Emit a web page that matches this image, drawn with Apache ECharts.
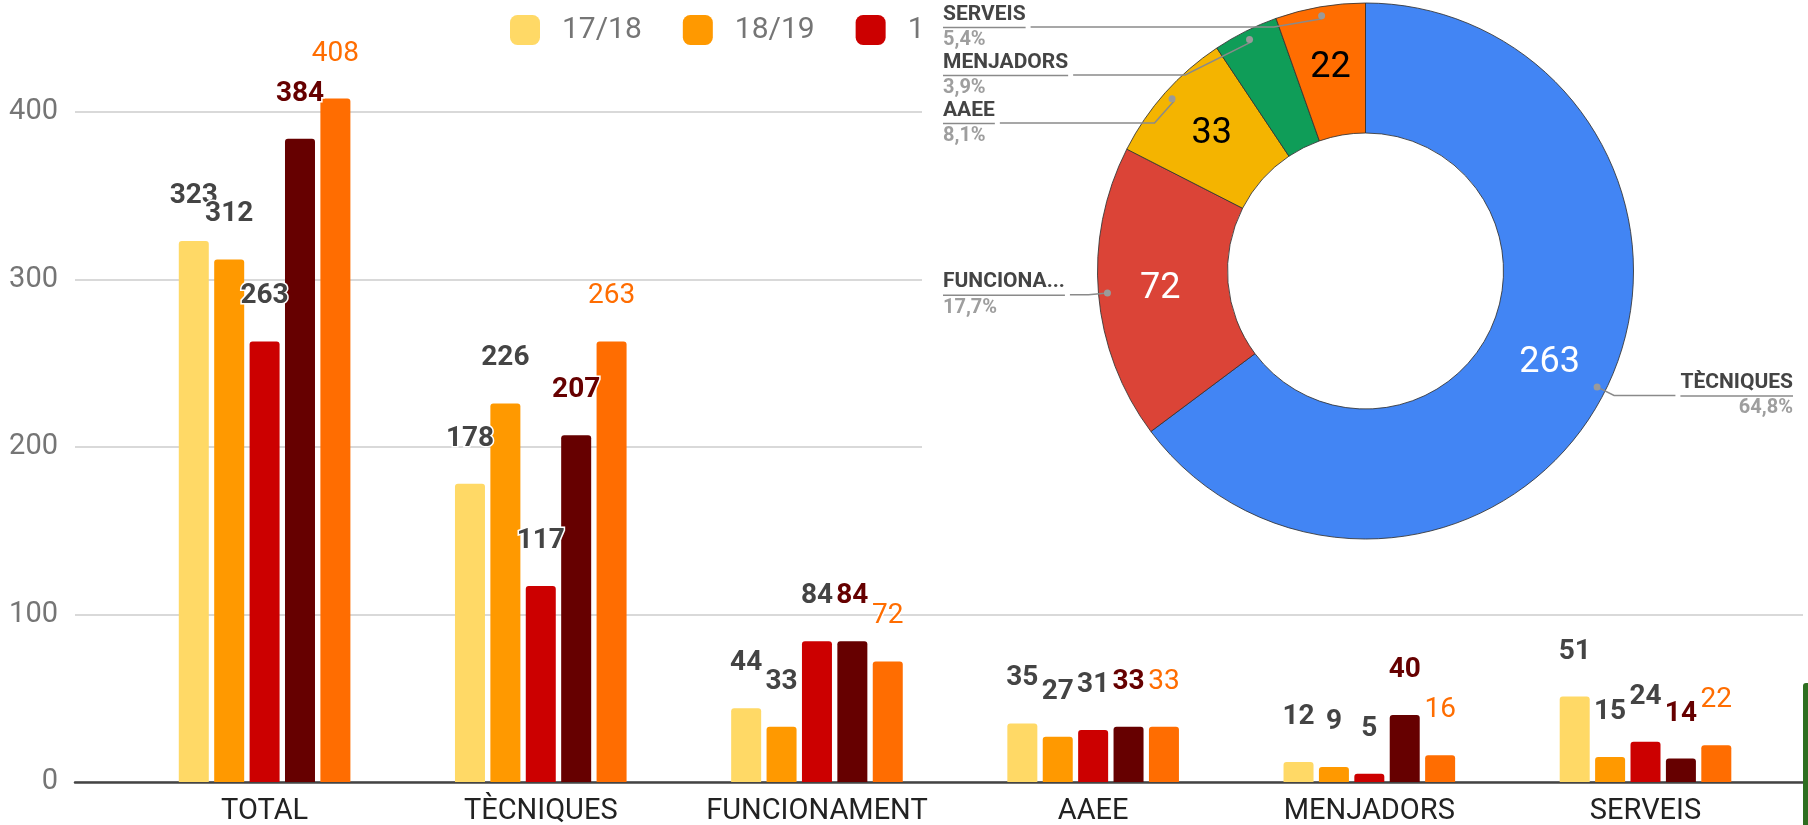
<!DOCTYPE html>
<html>
<head>
<meta charset="utf-8">
<script src="https://cdn.jsdelivr.net/npm/echarts@6/dist/echarts.min.js"></script>
<style>
html,body{margin:0;padding:0;background:#fff;}
#c{width:1808px;height:825px;}
</style>
</head>
<body>
<div id="c"></div>
<script>
// ---- data ----
const categories = ['TOTAL', 'TÈCNIQUES', 'FUNCIONAMENT', 'AAEE', 'MENJADORS', 'SERVEIS'];
const seriesNames = ['17/18', '18/19', '19/20', '20/21', '21/22'];
const v1718 = [323, 178, 44, 35, 12, 51];
const v1819 = [312, 226, 33, 27, 9, 15];
const v1920 = [263, 117, 84, 31, 5, 24];
const v2021 = [384, 207, 84, 33, 40, 14];
const v2122 = [408, 263, 72, 33, 16, 22];
const pieNames = ['TÈCNIQUES', 'FUNCIONAMENT', 'AAEE', 'MENJADORS', 'SERVEIS'];
const pieValues = [263, 72, 33, 16, 22];

// ---- styles ----
const barColors = ['#FFD966', '#FF9900', '#CC0000', '#660000', '#FF6D01'];
const barLabelColors = ['#444444', '#444444', '#444444', '#660000', '#FF6D01'];
const barLabelWeights = ['bold', 'bold', 'bold', 'bold', 'normal'];
const pieColors = ['#4285F4', '#DB4437', '#F4B400', '#0F9D58', '#FF6D01'];
const pieInnerLabelColors = ['#ffffff', '#ffffff', '#000000', '#000000', '#000000'];
const FONT = 'Roboto';

const barValues = [v1718, v1819, v1920, v2021, v2122];
const pieTotal = pieValues.reduce((a, b) => a + b, 0);

const chart = echarts.init(document.getElementById('c'), null, {renderer: 'canvas'});

const barSeries = seriesNames.map((name, i) => ({
  name: name,
  type: 'bar',
  xAxisIndex: 1,
  yAxisIndex: 1,
  data: barValues[i],
  barWidth: 30,
  barGap: '18%',
  itemStyle: {color: barColors[i], borderRadius: [3, 3, 0, 0]},
  label: {
    show: true,
    position: 'top',
    distance: 31,
    fontFamily: FONT,
    fontSize: 28,
    fontWeight: barLabelWeights[i],
    color: barLabelColors[i],
    textBorderColor: '#ffffff',
    textBorderWidth: 3
  },
  z: 2
}));

const pieBox = {left: 933, top: 3, width: 870, height: 822};
const pieCenter = [1365.5 - 933, 271 - 3];
const OUTER = 268, INNER = 138, DOT_R = 256;

function shortName(n) { return n.length > 9 ? n.slice(0, 8) + '...' : n; }
function pieBase(extra) {
  return Object.assign({
    type: 'pie',
    left: pieBox.left, top: pieBox.top, width: pieBox.width, height: pieBox.height,
    center: pieCenter,
    startAngle: 90,
    clockwise: true,
    emphasis: {disabled: true}
  }, extra);
}

const option = {
  backgroundColor: '#ffffff',
  animation: false,
  legend: {
    data: seriesNames,
    left: 510,
    top: 15,
    padding: 0,
    itemWidth: 30,
    itemHeight: 30,
    itemGap: 41,
    icon: 'roundRect',
    textStyle: {fontFamily: FONT, fontSize: 30, color: '#757575', padding: [0, 0, 0, 17]}
  },
  grid: [
    {left: 75, right: 5, top: -55.5, bottom: 43, outerBoundsMode: 'none', containLabel: false},
    {left: 126.5, right: 24.4, top: -55.5, bottom: 43, outerBoundsMode: 'none', containLabel: false}
  ],
  xAxis: [
    {
      type: 'value', gridIndex: 0, min: 0, max: 1,
      axisLine: {show: true, lineStyle: {color: '#444444', width: 2.5}},
      axisTick: {show: false}, axisLabel: {show: false}, splitLine: {show: false}
    },
    {
      type: 'category', gridIndex: 1, data: categories,
      axisLine: {show: false}, axisTick: {show: false},
      axisLabel: {interval: 0, fontFamily: FONT, fontSize: 29, color: '#222222', margin: 15}
    }
  ],
  yAxis: [
    {
      type: 'value', gridIndex: 0, min: 0, max: 500, interval: 100,
      axisLine: {show: false}, axisTick: {show: false},
      axisLabel: {fontFamily: FONT, fontSize: 29, color: '#757575', margin: 17},
      splitLine: {lineStyle: {color: '#cccccc', width: 1.5}}
    },
    {
      type: 'value', gridIndex: 1, min: 0, max: 500, interval: 100, show: false,
      splitLine: {show: false}
    }
  ],
  graphic: {
    elements: [
      {type: 'rect', z: 10, zlevel: 0, shape: {x: 922, y: 0, width: 886, height: 585}, style: {fill: '#ffffff'}},
      {type: 'rect', z: 10, zlevel: 0, shape: {x: 1803, y: 683, width: 5, height: 142, r: [3, 0, 0, 0]}, style: {fill: '#2e6e20'}}
    ]
  },
  series: barSeries.concat([
    // coloured donut with value labels inside
    pieBase({
      name: 'pie',
      radius: [INNER, OUTER],
      z: 20,
      data: pieNames.map((n, i) => ({name: n, value: pieValues[i], itemStyle: {color: pieColors[i]}})),
      itemStyle: {borderColor: 'rgba(50,50,50,0.85)', borderWidth: 1},
      label: {
        show: true,
        position: 'inside',
        formatter: function (p) {
          if (p.value / pieTotal * 100 < 5) return '';
          return '{c' + p.dataIndex + '|' + p.value + '}';
        },
        rich: Object.fromEntries(pieInnerLabelColors.map((c, i) => ['c' + i, {fontFamily: FONT, fontSize: 36, color: c}]))
      },
      labelLine: {show: false}
    }),
    // transparent ring carrying the outside name/percent labels (line starts inside the slice)
    pieBase({
      name: 'pieLabels',
      radius: [INNER, DOT_R],
      z: 21,
      silent: true,
      avoidLabelOverlap: true,
      data: pieNames.map((n, i) => ({name: n, value: pieValues[i]})),
      itemStyle: {color: 'rgba(0,0,0,0)'},
      label: {
        show: true,
        position: 'outside',
        alignTo: 'edge',
        edgeDistance: 10,
        formatter: function (p) {
          const pct = (p.value / pieTotal * 100).toFixed(1).replace('.', ',');
          return '{n|' + shortName(p.name) + '}\n{r| }\n{p|' + pct + '%}';
        },
        rich: {
          n: {fontFamily: FONT, fontWeight: 'bold', fontSize: 21, color: '#444444', lineHeight: 23},
          r: {width: '100%', height: 1.5, lineHeight: 3, fontSize: 1, backgroundColor: '#8a8a8a'},
          p: {fontFamily: FONT, fontWeight: 'bold', fontSize: 20, color: '#9e9e9e', lineHeight: 22}
        }
      },
      labelLine: {show: true, length: 22, length2: 10, lineStyle: {color: '#8a8a8a', width: 1.5}}
    }),
    // small dots where the leader lines start
    pieBase({
      name: 'pieDots',
      radius: [DOT_R - 6, DOT_R + 6],
      z: 22,
      silent: true,
      data: pieNames.map((n, i) => ({name: n, value: pieValues[i]})),
      itemStyle: {color: 'rgba(0,0,0,0)'},
      label: {
        show: true,
        position: 'inside',
        formatter: '{d| }',
        rich: {d: {width: 7, height: 7, borderRadius: 3.5, backgroundColor: '#9a9a9a', fontSize: 1}}
      },
      labelLine: {show: false}
    })
  ])
};

chart.setOption(option);
</script>
</body>
</html>
